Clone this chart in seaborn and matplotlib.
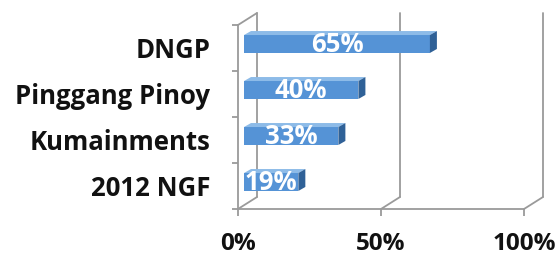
import matplotlib
matplotlib.use("Agg")
import matplotlib.pyplot as plt
import matplotlib.transforms as mtransforms
from matplotlib.patches import Polygon
import seaborn as sns
import pandas as pd

categories = ["DNGP", "Pinggang Pinoy", "Kumainments", "2012 NGF"]
values = [0.65, 0.40, 0.33, 0.19]
value_labels = ["65%", "40%", "33%", "19%"]
x_ticks = [0.0, 0.5, 1.0]
x_tick_labels = ["0%", "50%", "100%"]

sns.set_theme(style="white")
plt.rcParams["font.family"] = ["Open Sans", "DejaVu Sans"]

W, H, DPI = 560, 257, 100
fig = plt.figure(figsize=(W / DPI, H / DPI), dpi=DPI)
L, R, T, B = 238, 524, 25, 209
ax = fig.add_axes([L / W, 1 - B / H, (R - L) / W, (B - T) / H])

df = pd.DataFrame({"cat": categories, "val": values})
front_col = "#5593D6"
top_col = "#8DBBE8"
side_col = "#2F6197"
grid_col = "#9A9A9A"

sns.barplot(data=df, x="val", y="cat", orient="h", color=front_col,
            saturation=1, width=0.39, ax=ax, zorder=3)
ax.set_xlim(0, 1)
ax.set_ylim(3.5, -0.5)

# pixel -> data conversion
kx = 1.0 / (R - L)
ky = 4.0 / (B - T)
# depth vectors (px): bar offset, bar depth, wall depth
off = (6, 4)
dep = (7, 4)
wall = (19, 12)

shift = mtransforms.ScaledTranslation(off[0] / DPI, off[1] / DPI, fig.dpi_scale_trans)
for p in ax.patches:
    p.set_transform(ax.transData + shift)
    p.set_edgecolor("none")

dx, dy = dep[0] * kx, -dep[1] * ky
for p in list(ax.patches):
    x0, y0 = p.get_x(), p.get_y()
    w, h = p.get_width(), p.get_height()
    top = Polygon([(x0, y0), (x0 + w, y0), (x0 + w + dx, y0 + dy), (x0 + dx, y0 + dy)],
                  closed=True, facecolor=top_col, edgecolor="none",
                  transform=ax.transData + shift, zorder=3, clip_on=False)
    side = Polygon([(x0 + w, y0), (x0 + w + dx, y0 + dy), (x0 + w + dx, y0 + h + dy), (x0 + w, y0 + h)],
                   closed=True, facecolor=side_col, edgecolor="none",
                   transform=ax.transData + shift, zorder=3, clip_on=False)
    ax.add_patch(top)
    ax.add_patch(side)

for i, (v, lab) in enumerate(zip(values, value_labels)):
    ax.text(v / 2, i, lab, transform=ax.transData + shift, ha="center", va="center",
            color="white", fontsize=18.5, fontweight="bold", zorder=5)

# walls
wx, wy = wall[0] * kx, -wall[1] * ky
lw = 1.3
for xt in x_ticks:
    ax.plot([xt + wx, xt + wx], [-0.5 + wy, 3.5 + wy], color=grid_col, lw=lw, zorder=1, clip_on=False)
    ax.plot([xt, xt + wx], [3.5, 3.5 + wy], color=grid_col, lw=lw, zorder=1, clip_on=False)
ax.plot([0, wx], [-0.5, -0.5 + wy], color=grid_col, lw=lw, zorder=1, clip_on=False)

for s in ["top", "right"]:
    ax.spines[s].set_visible(False)
for s in ["left", "bottom"]:
    ax.spines[s].set_color(grid_col)
    ax.spines[s].set_linewidth(lw)

ax.set_xticks(x_ticks)
ax.set_xticklabels(x_tick_labels, fontsize=17.5, fontweight="bold", color="#111111")
ax.set_yticks(range(len(categories)))
ax.set_yticklabels(categories, fontsize=18.5, fontweight="bold", color="#111111")
ax.set_yticks([-0.5, 0.5, 1.5, 2.5, 3.5], minor=True)
ax.tick_params(axis="y", which="major", length=0, pad=20)
ax.tick_params(axis="y", which="minor", length=4.5, width=lw, color=grid_col, left=True)
ax.tick_params(axis="x", which="major", length=5, width=lw, color=grid_col, pad=11.5, bottom=True)
ax.set_xlabel("")
ax.set_ylabel("")
ax.grid(False)
ax.set_facecolor("none")

fig.savefig("out.png", dpi=DPI)
